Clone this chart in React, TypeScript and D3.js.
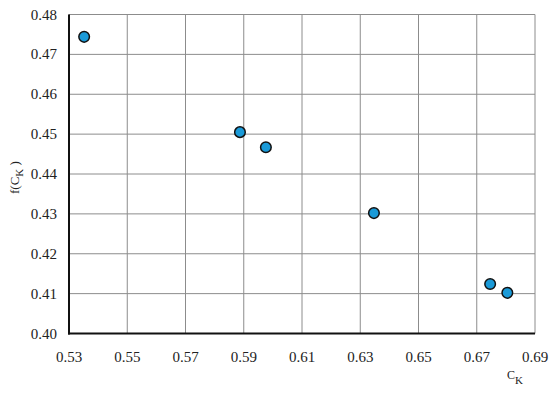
import React from "react";
import * as d3 from "d3";

const xValues = [0.5352, 0.5887, 0.5976, 0.6347, 0.6746, 0.6805];
const yValues = [0.4744, 0.4505, 0.4467, 0.4302, 0.4124, 0.4102];
const xTicks = [0.53, 0.55, 0.57, 0.59, 0.61, 0.63, 0.65, 0.67, 0.69];
const yTicks = [0.4, 0.41, 0.42, 0.43, 0.44, 0.45, 0.46, 0.47, 0.48];

export default function App() {
  const W = 550, H = 393;
  const left = 69, right = 535, top = 14.5, bottom = 333.5;
  const x = d3.scaleLinear().domain([0.53, 0.69]).range([left, right]);
  const y = d3.scaleLinear().domain([0.4, 0.48]).range([bottom, top]);
  const font = "'Liberation Serif', 'DejaVu Serif', serif";
  return (
    <svg width={W} height={H} style={{ position: "absolute", left: 0, top: 0, background: "#fff" }}>
      {xTicks.map((t) => (
        <line key={"gx" + t} x1={x(t)} x2={x(t)} y1={top} y2={bottom} stroke="#8c8c8c" strokeWidth={1} />
      ))}
      {yTicks.map((t) => (
        <line key={"gy" + t} x1={left} x2={right} y1={y(t)} y2={y(t)} stroke="#8c8c8c" strokeWidth={1} />
      ))}
      <line x1={left} x2={left} y1={top} y2={bottom + 1} stroke="#111" strokeWidth={2} />
      <line x1={left - 1} x2={right} y1={bottom} y2={bottom} stroke="#111" strokeWidth={2} />
      {xTicks.map((t) => (
        <text key={"xt" + t} x={x(t)} y={362} textAnchor="middle" fontFamily={font} fontSize={15} fill="#222">
          {t.toFixed(2)}
        </text>
      ))}
      {yTicks.map((t) => (
        <text key={"yt" + t} x={57} y={y(t) + 5} textAnchor="end" fontFamily={font} fontSize={15} fill="#222">
          {t.toFixed(2)}
        </text>
      ))}
      <text x={507} y={379} fontFamily={font} fontSize={12} fill="#222">
        C<tspan fontSize={11} dy={5}>K</tspan>
      </text>
      <text transform="translate(19,194) rotate(-90)" fontFamily={font} fontSize={13} fill="#222">
        f(C<tspan fontSize={11} dy={4}>K</tspan><tspan dy={-4}> )</tspan>
      </text>
      {xValues.map((v, i) => (
        <circle key={"p" + i} cx={x(v)} cy={y(yValues[i])} r={5.3} fill="#1a9ad8" stroke="#111" strokeWidth={1.5} />
      ))}
    </svg>
  );
}
